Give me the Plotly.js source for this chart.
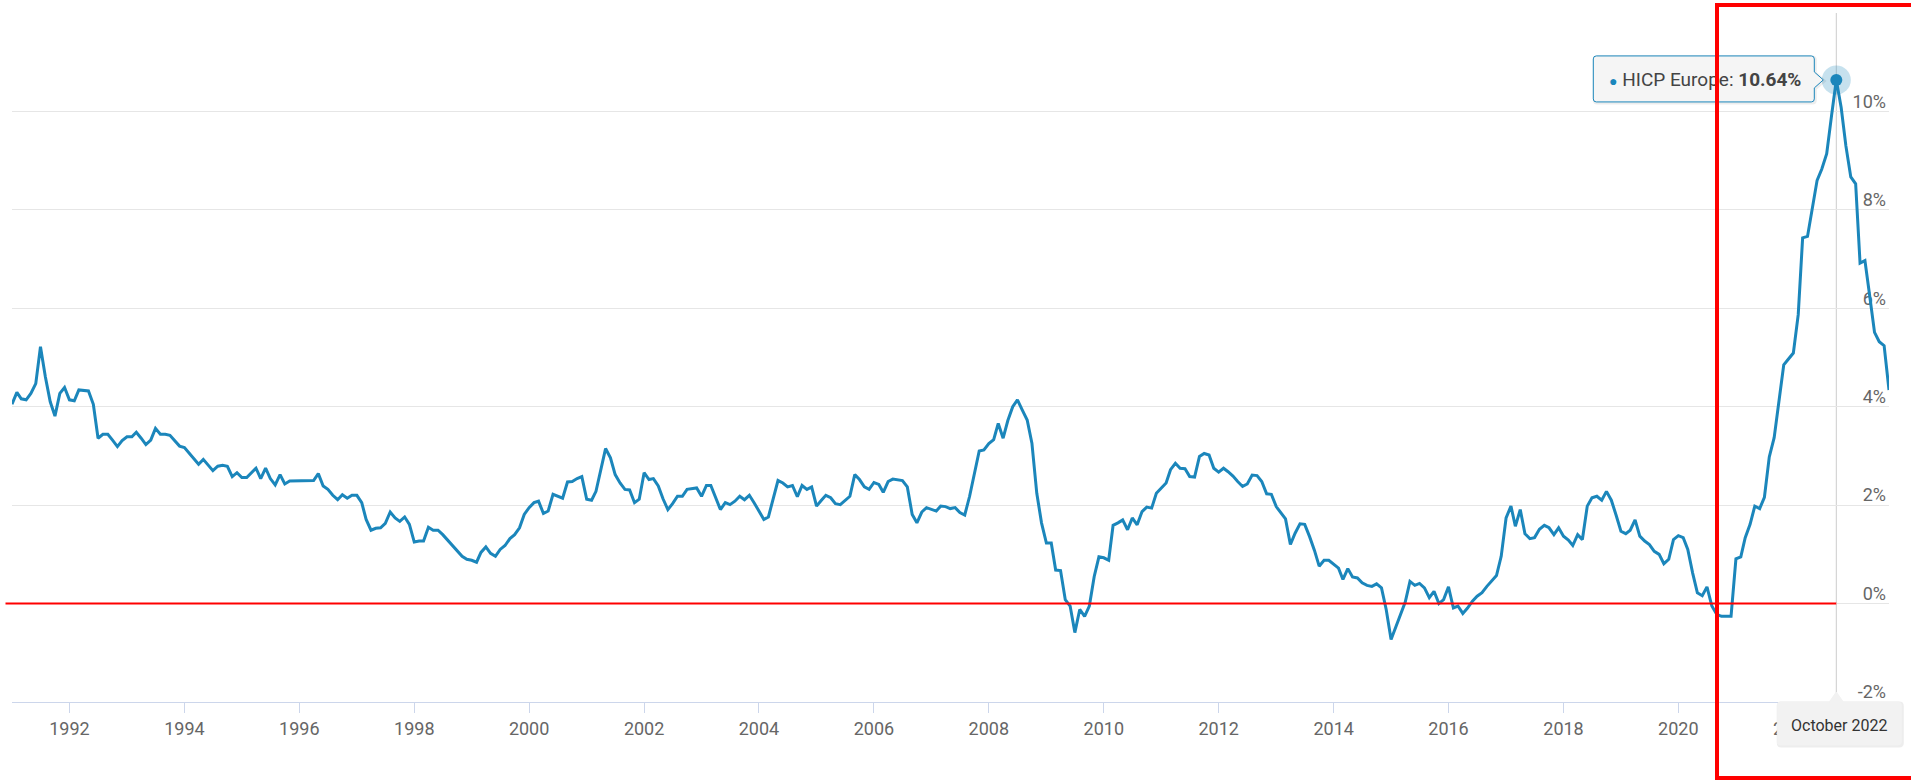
<!DOCTYPE html>
<html>
<head>
<meta charset="utf-8">
<script src="https://cdn.plot.ly/plotly-3.0.1.min.js"></script>
<style>
  html, body { margin: 0; padding: 0; background: #ffffff; }
  #chart { width: 1911px; height: 780px; }
</style>
</head>
<body>
<div id="chart"></div>
<script>
// ---------------- DATA (monthly annual HICP rate, %) ----------------
const seriesName = 'HICP Europe';
const v1991 = [4.05, 4.29, 4.16, 4.14, 4.27, 4.47, 5.22, 4.61, 4.10, 3.81, 4.27, 4.39];
const v1992 = [4.14, 4.12, 4.34, 4.33, 4.32, 4.05, 3.36, 3.44, 3.44, 3.32, 3.19, 3.31];
const v1993 = [3.39, 3.39, 3.48, 3.36, 3.23, 3.32, 3.56, 3.44, 3.44, 3.42, 3.30, 3.20];
const v1994 = [3.17, 3.05, 2.93, 2.83, 2.93, 2.81, 2.70, 2.79, 2.81, 2.79, 2.58, 2.66];
const v1995 = [2.56, 2.56, 2.66, 2.75, 2.54, 2.75, 2.54, 2.41, 2.62, 2.43, 2.49, 2.49];
const v1996 = [2.49, 2.49, 2.49, 2.50, 2.64, 2.39, 2.32, 2.20, 2.11, 2.21, 2.14, 2.20];
const v1997 = [2.20, 2.05, 1.71, 1.49, 1.53, 1.54, 1.63, 1.86, 1.74, 1.67, 1.76, 1.61];
const v1998 = [1.25, 1.27, 1.27, 1.55, 1.49, 1.49, 1.40, 1.29, 1.17, 1.08, 0.96, 0.90];
const v1999 = [0.88, 0.84, 1.04, 1.15, 1.02, 0.96, 1.10, 1.18, 1.32, 1.40, 1.54, 1.81];
const v2000 = [1.95, 2.05, 2.08, 1.83, 1.88, 2.22, 2.18, 2.14, 2.47, 2.48, 2.54, 2.58];
const v2001 = [2.12, 2.10, 2.28, 2.76, 3.15, 2.96, 2.62, 2.45, 2.32, 2.31, 2.05, 2.12];
const v2002 = [2.66, 2.52, 2.54, 2.39, 2.13, 1.91, 2.03, 2.18, 2.18, 2.32, 2.33, 2.35];
const v2003 = [2.18, 2.40, 2.40, 2.15, 1.91, 2.05, 2.01, 2.08, 2.18, 2.11, 2.20, 2.05];
const v2004 = [1.88, 1.71, 1.76, 2.11, 2.50, 2.45, 2.37, 2.40, 2.17, 2.40, 2.32, 2.37];
const v2005 = [1.98, 2.10, 2.20, 2.15, 2.03, 2.01, 2.10, 2.18, 2.62, 2.52, 2.37, 2.32];
const v2006 = [2.46, 2.42, 2.26, 2.48, 2.53, 2.51, 2.50, 2.37, 1.81, 1.64, 1.86, 1.95];
const v2007 = [1.91, 1.88, 1.98, 1.97, 1.93, 1.95, 1.85, 1.80, 2.18, 2.65, 3.10, 3.12];
const v2008 = [3.25, 3.33, 3.66, 3.36, 3.72, 4.00, 4.14, 3.93, 3.73, 3.26, 2.24, 1.64];
const v2009 = [1.23, 1.23, 0.68, 0.67, 0.08, -0.05, -0.59, -0.12, -0.26, -0.05, 0.55, 0.95];
const v2010 = [0.93, 0.88, 1.59, 1.64, 1.70, 1.50, 1.74, 1.60, 1.87, 1.96, 1.94, 2.24];
const v2011 = [2.34, 2.45, 2.72, 2.85, 2.75, 2.74, 2.58, 2.57, 2.99, 3.05, 3.02, 2.75];
const v2012 = [2.67, 2.75, 2.68, 2.59, 2.48, 2.38, 2.43, 2.61, 2.60, 2.48, 2.23, 2.22];
const v2013 = [1.97, 1.84, 1.72, 1.20, 1.43, 1.62, 1.61, 1.36, 1.08, 0.76, 0.88, 0.88];
const v2014 = [0.80, 0.72, 0.49, 0.71, 0.54, 0.52, 0.42, 0.37, 0.35, 0.40, 0.32, -0.12];
const v2015 = [-0.73, -0.46, -0.24, 0.03, 0.45, 0.37, 0.41, 0.32, 0.12, 0.25, 0.00, 0.08];
const v2016 = [0.34, -0.09, -0.05, -0.20, -0.09, 0.05, 0.15, 0.22, 0.35, 0.47, 0.57, 0.96];
const v2017 = [1.74, 1.98, 1.57, 1.91, 1.42, 1.32, 1.34, 1.51, 1.59, 1.54, 1.40, 1.54];
const v2018 = [1.37, 1.29, 1.18, 1.40, 1.30, 1.98, 2.15, 2.18, 2.10, 2.28, 2.10, 1.80];
const v2019 = [1.47, 1.42, 1.49, 1.70, 1.37, 1.27, 1.20, 1.06, 1.00, 0.81, 0.90, 1.30];
const v2020 = [1.38, 1.34, 1.10, 0.62, 0.22, 0.16, 0.34, -0.05, -0.22, -0.26, -0.26, -0.26];
const v2021 = [0.91, 0.95, 1.34, 1.61, 1.98, 1.93, 2.16, 2.98, 3.37, 4.07, 4.85, 4.97];
const v2022 = [5.09, 5.87, 7.43, 7.46, 8.01, 8.60, 8.83, 9.14, 9.92, 10.64, 10.08, 9.30];
const v2023 = [8.67, 8.53, 6.92, 6.97, 6.26, 5.51, 5.32, 5.24, 4.34];

const xTickDates  = ['1992-01-01','1994-01-01','1996-01-01','1998-01-01','2000-01-01','2002-01-01','2004-01-01','2006-01-01',
                     '2008-01-01','2010-01-01','2012-01-01','2014-01-01','2016-01-01','2018-01-01','2020-01-01','2022-01-01'];
const xTickLabels = ['1992','1994','1996','1998','2000','2002','2004','2006','2008','2010','2012','2014','2016','2018','2020','2022'];
const yTickValues = [-2, 0, 2, 4, 6, 8, 10, 12];
const yTickLabels = ['-2%', '0%', '2%', '4%', '6%', '8%', '10%', ''];
const highlightLabel = 'October 2022';

// ---------------- build series ----------------
const startYear = 1991;
const yearly = [v1991,v1992,v1993,v1994,v1995,v1996,v1997,v1998,v1999,v2000,v2001,v2002,v2003,v2004,v2005,v2006,
                v2007,v2008,v2009,v2010,v2011,v2012,v2013,v2014,v2015,v2016,v2017,v2018,v2019,v2020,v2021,v2022,v2023];
const dates = [], values = [];
yearly.forEach((arr, yi) => {
  arr.forEach((v, mi) => {
    dates.push((startYear + yi) + '-' + String(mi + 1).padStart(2, '0') + '-01');
    values.push(v);
  });
});
let peakIdx = 0;
values.forEach((v, i) => { if (v > values[peakIdx]) peakIdx = i; });
const peakDate = dates[peakIdx], peakVal = values[peakIdx];

// ---------------- geometry helpers ----------------
const lineColor = '#1b86bb';
const W = 1911, H = 780;
const M = { l: 12, r: 22, t: 13, b: 40 };
const plotW = W - M.l - M.r, plotH = H - M.t - M.b;
const axisY = 702;                         // pixel row of the x axis line (value -2)
const yLow = -2, yMax = 12;
const unitPx = (axisY - M.t) / (yMax - yLow);
const yMin = yLow - (H - M.b - axisY) / unitPx;   // range extends below the axis line
const t0 = Date.parse(dates[0] + 'T00:00:00Z'), t1 = Date.parse(dates[dates.length - 1] + 'T00:00:00Z');
const px = d => M.l + (Date.parse(d + 'T00:00:00Z') - t0) / (t1 - t0) * plotW;
const py = v => M.t + (yMax - v) * unitPx;
const fx = p => (p - M.l) / plotW;
const fy = p => (H - M.b - p) / plotH;
const P = (x, y) => fx(x).toFixed(6) + ',' + fy(y).toFixed(6);

function boxPath(l, t, r, b, rad, ptr) {
  let d = 'M' + P(l + rad, t);
  if (ptr && ptr.side === 'top') d += ' L' + P(ptr.x - ptr.half, t) + ' L' + P(ptr.x, ptr.tip) + ' L' + P(ptr.x + ptr.half, t);
  d += ' L' + P(r - rad, t) + ' Q' + P(r, t) + ' ' + P(r, t + rad);
  if (ptr && ptr.side === 'right') d += ' L' + P(r, ptr.y - ptr.half) + ' L' + P(ptr.tip, ptr.y) + ' L' + P(r, ptr.y + ptr.half);
  d += ' L' + P(r, b - rad) + ' Q' + P(r, b) + ' ' + P(r - rad, b);
  d += ' L' + P(l + rad, b) + ' Q' + P(l, b) + ' ' + P(l, b - rad);
  d += ' L' + P(l, t + rad) + ' Q' + P(l, t) + ' ' + P(l + rad, t) + ' Z';
  return d;
}

const pX = px(peakDate), pY = py(peakVal);
const tipR = pX - 22, tipL = tipR - 221, tipT = pY - 24, tipB = pY + 22;
const hdL = pX - 59, hdR = pX + 65, hdT = axisY, hdB = axisY + 43;

// ---------------- traces ----------------
const traces = [
  { x: dates, y: values, type: 'scatter', mode: 'lines', name: seriesName,
    line: { color: lineColor, width: 3 }, hoverinfo: 'skip' },
  { x: [peakDate], y: [peakVal], type: 'scatter', mode: 'markers', hoverinfo: 'skip',
    marker: { size: 29, color: 'rgba(27,134,187,0.25)' } },
  { x: [peakDate], y: [peakVal], type: 'scatter', mode: 'markers', hoverinfo: 'skip',
    marker: { size: 12, color: lineColor } }
];

const layout = {
  width: W, height: H,
  margin: M,
  paper_bgcolor: '#ffffff', plot_bgcolor: '#ffffff',
  showlegend: false,
  hovermode: false,
  font: { family: 'Roboto, sans-serif', color: '#666666' },
  xaxis: {
    type: 'date', range: [dates[0], dates[dates.length - 1]],
    anchor: 'free', position: fy(axisY),
    tickmode: 'array', tickvals: xTickDates, ticktext: xTickLabels,
    ticks: 'outside', ticklen: 10, tickwidth: 1, tickcolor: '#ccd6eb',
    showline: true, linecolor: '#ccd6eb', linewidth: 1,
    showgrid: false, zeroline: false,
    tickfont: { family: 'Roboto, sans-serif', size: 18, color: '#666666' },
    layer: 'below traces', fixedrange: true
  },
  yaxis: {
    range: [yMin, yMax], side: 'right',
    tickmode: 'array', tickvals: yTickValues, ticktext: yTickLabels,
    ticklabelposition: 'inside', ticklabelshift: -10,
    ticks: '', showline: false, zeroline: false,
    showgrid: true, gridcolor: '#e6e6e6', gridwidth: 1,
    tickfont: { family: 'Roboto, sans-serif', size: 18, color: '#666666' },
    layer: 'below traces', fixedrange: true
  },
  shapes: [
    // crosshair
    { type: 'line', xref: 'paper', yref: 'paper', x0: fx(pX), x1: fx(pX), y0: fy(axisY), y1: 1,
      line: { color: '#cccccc', width: 1 }, layer: 'between' },
    // red zero line
    { type: 'line', xref: 'paper', yref: 'paper', x0: fx(5.5), x1: fx(pX), y0: fy(py(0)), y1: fy(py(0)),
      line: { color: '#ff0000', width: 2 }, layer: 'above' },
    // tooltip shadow + box
    { type: 'path', xref: 'paper', yref: 'paper', layer: 'above',
      path: boxPath(tipL + 1, tipT + 1, tipR + 1, tipB + 1, 3, { side: 'right', y: pY + 1, half: 8, tip: pX - 12 }),
      line: { color: 'rgba(0,0,0,0.07)', width: 3 }, fillcolor: 'rgba(0,0,0,0)' },
    { type: 'path', xref: 'paper', yref: 'paper', layer: 'above',
      path: boxPath(tipL, tipT, tipR, tipB, 3, { side: 'right', y: pY, half: 8, tip: pX - 13 }),
      line: { color: lineColor, width: 1 }, fillcolor: 'rgba(245,245,245,0.96)' },
    // header shadow + box
    { type: 'path', xref: 'paper', yref: 'paper', layer: 'above',
      path: boxPath(hdL + 1, hdT + 1, hdR + 1, hdB + 1, 3, null),
      line: { color: 'rgba(0,0,0,0.07)', width: 3 }, fillcolor: 'rgba(0,0,0,0)' },
    { type: 'path', xref: 'paper', yref: 'paper', layer: 'above',
      path: boxPath(hdL, hdT, hdR, hdB, 3, { side: 'top', x: pX, half: 7, tip: hdT - 10 }),
      line: { color: 'rgba(242,242,242,1)', width: 1 }, fillcolor: 'rgba(242,242,242,1)' }
  ],
  annotations: [
    { xref: 'paper', yref: 'paper', x: fx(tipL + 14), y: fy(pY), xanchor: 'left', yanchor: 'middle',
      showarrow: false,
      text: '<span style="color:' + lineColor + ';font-size:14px">●</span> ' + seriesName + ': <b>' + peakVal.toFixed(2) + '%</b>',
      font: { family: 'Roboto, sans-serif', size: 19, color: '#444444' } },
    { xref: 'paper', yref: 'paper', x: fx((hdL + hdR) / 2), y: fy(hdT + 23), xanchor: 'center', yanchor: 'middle',
      showarrow: false, text: highlightLabel,
      font: { family: 'Roboto, sans-serif', size: 16, color: '#333333' } },
    // red highlight frame
    { xref: 'paper', yref: 'paper', x: fx(1715), y: fy(2.7), xanchor: 'left', yanchor: 'top',
      showarrow: false, text: ' ', width: 207, height: 769, borderpad: 0,
      borderwidth: 4, bordercolor: '#ff0000', bgcolor: 'rgba(0,0,0,0)' }
  ]
};

Plotly.newPlot('chart', traces, layout, { staticPlot: true, displayModeBar: false });
</script>
</body>
</html>
